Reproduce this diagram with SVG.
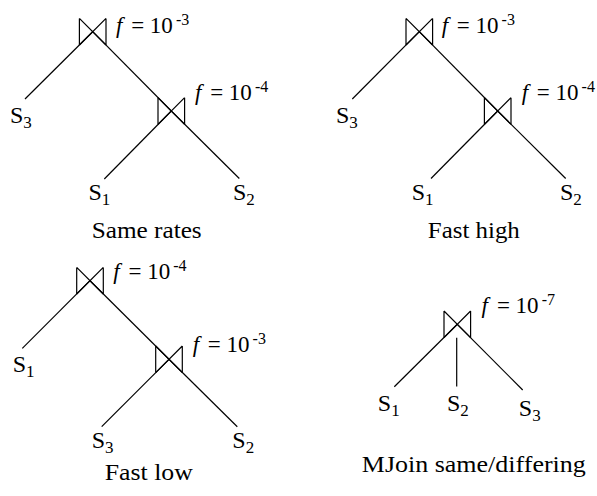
<svg xmlns="http://www.w3.org/2000/svg" xmlns:xlink="http://www.w3.org/1999/xlink" width="597" height="496" viewBox="0 0 597 496">
<style>
text{font-family:'Liberation Serif','Times New Roman',serif;fill:#000}
.s{font-size:24px}
.sub{font-size:17px}
.f{font-size:23px}
.it{font-style:italic}
.sup{font-size:16px}
.cap{font-size:24px}
line,path{stroke:#000;stroke-width:1.2;fill:none}
</style>
<defs>
<path id="bt" d="M-13.3,-13.3 V13.3 M13.3,-13.3 V13.3 M-13.3,-13.3 L13.3,13.3 M13.3,-13.3 L-13.3,13.3"/>
</defs>
<rect width="597" height="496" fill="#fff"/>

<g id="connectors">
<line x1="92.7" y1="31.7" x2="25" y2="99"/>
<line x1="92.7" y1="31.7" x2="171.3" y2="111"/>
<line x1="171.3" y1="111" x2="104.3" y2="179"/>
<line x1="171.3" y1="111" x2="239.3" y2="178.5"/>

<line x1="419.3" y1="31.7" x2="352.3" y2="99"/>
<line x1="419.3" y1="31.7" x2="497.7" y2="111"/>
<line x1="497.7" y1="111" x2="431" y2="178.5"/>
<line x1="497.7" y1="111" x2="565.7" y2="178.5"/>

<line x1="90" y1="280.7" x2="22.3" y2="348.3"/>
<line x1="90" y1="280.7" x2="169" y2="359.3"/>
<line x1="169" y1="359.3" x2="101.7" y2="426.7"/>
<line x1="169" y1="359.3" x2="237.3" y2="426.7"/>

<line x1="457.3" y1="324.3" x2="394.3" y2="386.7"/>
<line x1="456.7" y1="337.7" x2="456.7" y2="386.5"/>
<line x1="457.3" y1="324.3" x2="522.7" y2="390"/>
</g>

<g id="p1-join-top"><use xlink:href="#bt" transform="translate(92.7,31.7)"/>
<text class="f" x="116" y="33"><tspan class="it">f</tspan><tspan dx="3"> = 10</tspan><tspan class="sup" dx="3" dy="-8">-3</tspan></text></g>
<g id="p1-join-low"><use xlink:href="#bt" transform="translate(171.3,111)"/>
<text class="f" x="195" y="100"><tspan class="it">f</tspan><tspan dx="3"> = 10</tspan><tspan class="sup" dx="3" dy="-8">-4</tspan></text></g>
<g id="p1-s3"><text class="s" x="10" y="123">S<tspan class="sub" dy="5">3</tspan></text></g>
<g id="p1-s1"><text class="s" x="88.5" y="200">S<tspan class="sub" dy="5">1</tspan></text></g>
<g id="p1-s2"><text class="s" x="233" y="200">S<tspan class="sub" dy="5">2</tspan></text></g>
<g id="p1-caption"><text class="cap" x="146.7" y="237.5" text-anchor="middle" textLength="110" lengthAdjust="spacingAndGlyphs">Same rates</text></g>

<g id="p2-join-top"><use xlink:href="#bt" transform="translate(419.3,31.7)"/>
<text class="f" x="441.7" y="33"><tspan class="it">f</tspan><tspan dx="3"> = 10</tspan><tspan class="sup" dx="3" dy="-8">-3</tspan></text></g>
<g id="p2-join-low"><use xlink:href="#bt" transform="translate(497.7,111)"/>
<text class="f" x="521.7" y="100"><tspan class="it">f</tspan><tspan dx="3"> = 10</tspan><tspan class="sup" dx="3" dy="-8">-4</tspan></text></g>
<g id="p2-s3"><text class="s" x="336" y="123">S<tspan class="sub" dy="5">3</tspan></text></g>
<g id="p2-s1"><text class="s" x="411.7" y="200">S<tspan class="sub" dy="5">1</tspan></text></g>
<g id="p2-s2"><text class="s" x="560" y="200">S<tspan class="sub" dy="5">2</tspan></text></g>
<g id="p2-caption"><text class="cap" x="473.8" y="237.5" text-anchor="middle" textLength="92" lengthAdjust="spacingAndGlyphs">Fast high</text></g>

<g id="p3-join-top"><use xlink:href="#bt" transform="translate(90,280.7)"/>
<text class="f" x="113.3" y="279"><tspan class="it">f</tspan><tspan dx="3"> = 10</tspan><tspan class="sup" dx="3" dy="-8">-4</tspan></text></g>
<g id="p3-join-low"><use xlink:href="#bt" transform="translate(169,359.3)"/>
<text class="f" x="192.7" y="351.7"><tspan class="it">f</tspan><tspan dx="3"> = 10</tspan><tspan class="sup" dx="3" dy="-8">-3</tspan></text></g>
<g id="p3-s1"><text class="s" x="12.7" y="372">S<tspan class="sub" dy="5">1</tspan></text></g>
<g id="p3-s3"><text class="s" x="91.7" y="448">S<tspan class="sub" dy="5">3</tspan></text></g>
<g id="p3-s2"><text class="s" x="232.3" y="448">S<tspan class="sub" dy="5">2</tspan></text></g>
<g id="p3-caption"><text class="cap" x="148.8" y="480" text-anchor="middle" textLength="88" lengthAdjust="spacingAndGlyphs">Fast low</text></g>

<g id="p4-mjoin"><use xlink:href="#bt" transform="translate(457.3,324.3)"/>
<text class="f" x="481.5" y="313.3"><tspan class="it">f</tspan><tspan dx="9">= 10</tspan><tspan class="sup" dx="3" dy="-8">-7</tspan></text></g>
<g id="p4-s1"><text class="s" x="377.8" y="411">S<tspan class="sub" dy="5">1</tspan></text></g>
<g id="p4-s2"><text class="s" x="447" y="411">S<tspan class="sub" dy="5">2</tspan></text></g>
<g id="p4-s3"><text class="s" x="518.8" y="416">S<tspan class="sub" dy="5">3</tspan></text></g>
<g id="p4-caption"><text class="cap" x="473.8" y="471.7" text-anchor="middle" textLength="224" lengthAdjust="spacingAndGlyphs">MJoin same/differing</text></g>
</svg>
